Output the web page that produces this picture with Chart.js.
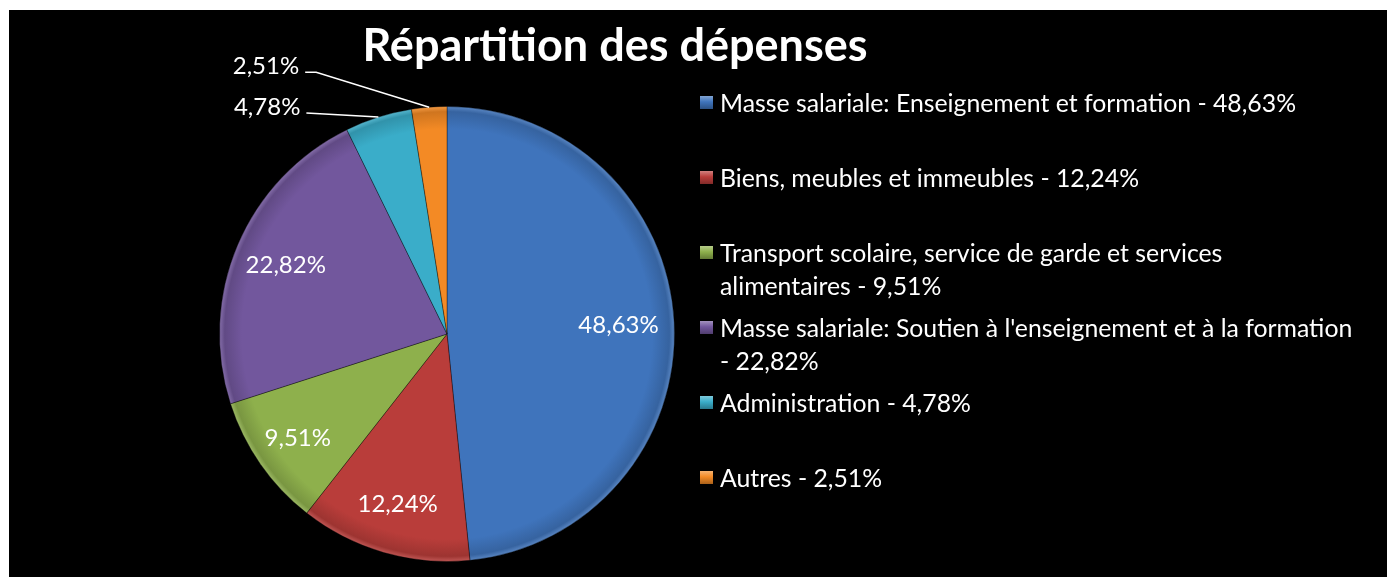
<!DOCTYPE html>
<html><head><meta charset="utf-8">
<script src="https://cdn.jsdelivr.net/npm/chart.js@4.4.0/dist/chart.umd.min.js"></script>
<style>
html,body{margin:0;padding:0;background:#fff;width:1387px;height:577px;overflow:hidden}
#wrap{position:absolute;left:9px;top:10px;width:1378px;height:567px;background:#000}
#title{position:absolute;left:0;width:1212px;top:12px;text-align:center;color:#fff;font:bold 45px Lato;line-height:45px;white-space:nowrap}
#chart{position:absolute;left:0;top:0}
#legend{position:absolute;left:691px;top:76px;width:654px;color:#fff;font:24.8px Lato}
.item{position:relative;height:75px;padding-left:20px;line-height:33px}
.box{position:absolute;left:0;top:10px;width:13px;height:13px}
</style></head>
<body>
<div id="wrap">
  <canvas id="chart" width="1378" height="567"></canvas>
  <div id="title"></div>
  <div id="legend"></div>
</div>
<script>
const chartTitle = "Répartition des dépenses";
const categories = [
  "Masse salariale: Enseignement et formation",
  "Biens, meubles et immeubles",
  "Transport scolaire, service de garde et services alimentaires",
  "Masse salariale: Soutien à l'enseignement et à la formation",
  "Administration",
  "Autres"
];
const values = [48.63, 12.24, 9.51, 22.82, 4.78, 2.51];
const colors = ["#3f74bc", "#b93d3a", "#8eb04c", "#72579d", "#3aadc9", "#f38a25"];
const outsideLabel = [false, false, false, false, true, true];

const fmt = v => v.toFixed(2).replace('.', ',') + '%';

function shade(hex, amt) {
  const n = parseInt(hex.slice(1), 16);
  let r = n >> 16, g = (n >> 8) & 255, b = n & 255;
  const f = v => Math.round(amt >= 0 ? v + (255 - v) * amt : v * (1 + amt));
  return `rgb(${f(r)},${f(g)},${f(b)})`;
}

document.getElementById('title').textContent = chartTitle;
const legend = document.getElementById('legend');
categories.forEach((c, i) => {
  const d = document.createElement('div');
  d.className = 'item';
  const b = document.createElement('span');
  b.className = 'box';
  b.style.background = `linear-gradient(180deg, ${shade(colors[i], 0.35)} 0%, ${colors[i]} 45%, ${shade(colors[i], -0.3)} 100%)`;
  d.appendChild(b);
  d.appendChild(document.createTextNode(c + ' - ' + fmt(values[i])));
  legend.appendChild(d);
});

const leaderOffsets = {
  4: [[-72, -4]],
  5: [[-113, -35], [-124, -35]]
};
const labelRadius = [0.755, 0.78, 0.8, 0.77];

const labelPlugin = {
  id: 'sliceLabels',
  afterDatasetsDraw(chart) {
    const ctx = chart.ctx;
    const meta = chart.getDatasetMeta(0);
    ctx.save();
    ctx.font = '24px Lato';
    ctx.fillStyle = '#fff';
    ctx.strokeStyle = '#fff';
    ctx.lineWidth = 1.5;
    ctx.textBaseline = 'middle';
    meta.data.forEach((arc, i) => {
      const p = arc.getProps(['x', 'y', 'startAngle', 'endAngle', 'outerRadius'], true);
      const mid = (p.startAngle + p.endAngle) / 2;
      const txt = fmt(values[i]);
      if (!outsideLabel[i]) {
        const f = labelRadius[i];
        ctx.textAlign = 'center';
        ctx.fillText(txt, p.x + Math.cos(mid) * p.outerRadius * f, p.y + Math.sin(mid) * p.outerRadius * f);
      } else {
        const ex = p.x + Math.cos(mid) * p.outerRadius;
        const ey = p.y + Math.sin(mid) * p.outerRadius;
        ctx.beginPath();
        ctx.moveTo(ex, ey);
        let lx = ex, ly = ey;
        leaderOffsets[i].forEach(o => { lx = ex + o[0]; ly = ey + o[1]; ctx.lineTo(lx, ly); });
        ctx.stroke();
        ctx.textAlign = 'right';
        ctx.fillText(txt, lx - 6, ly - 6);
      }
    });
    ctx.restore();
  }
};

const ctx = document.getElementById('chart').getContext('2d');
new Chart(ctx, {
  type: 'pie',
  data: {
    labels: categories,
    datasets: [{
      data: values,
      backgroundColor: (c) => {
        const i = c.dataIndex;
        const chart = c.chart;
        const a = chart.chartArea;
        if (!a) return colors[i];
        const cx = (a.left + a.right) / 2, cy = (a.top + a.bottom) / 2;
        const r = Math.min(a.right - a.left, a.bottom - a.top) / 2;
        const g = chart.ctx.createRadialGradient(cx, cy, 0, cx, cy, r);
        g.addColorStop(0, colors[i]);
        g.addColorStop(0.9, colors[i]);
        g.addColorStop(0.975, shade(colors[i], -0.15));
        g.addColorStop(1, shade(colors[i], 0.15));
        return g;
      },
      borderColor: 'rgba(0,0,0,0.35)',
      borderWidth: 1
    }]
  },
  options: {
    responsive: false,
    animation: false,
    layout: { padding: { left: 210, right: 712, top: 96, bottom: 15 } },
    plugins: {
      legend: { display: false },
      title: { display: false },
      tooltip: { enabled: false }
    }
  },
  plugins: [labelPlugin]
});
</script>
</body></html>
